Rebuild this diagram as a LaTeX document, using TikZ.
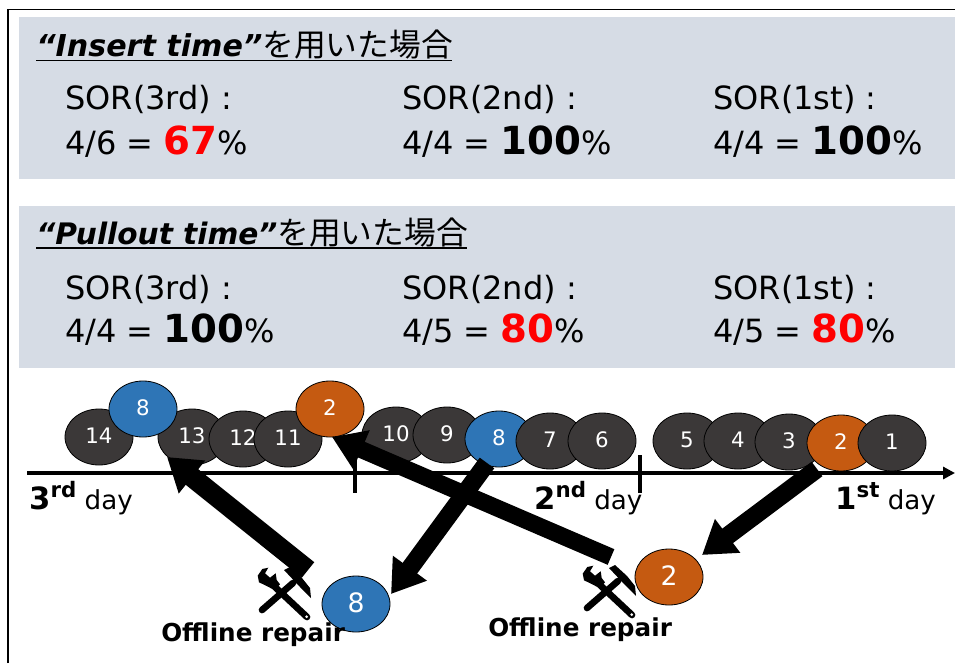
\documentclass[tikz,border=0pt]{standalone}
\usepackage{fontspec}
\setmainfont{DejaVu Sans}
\newfontfamily\jpfont{Noto Sans CJK JP}
\usetikzlibrary{arrows.meta}
\definecolor{panelc}{HTML}{D6DCE5}
\definecolor{darkc}{HTML}{3B3838}
\definecolor{bluec}{HTML}{2E75B6}
\definecolor{orangec}{HTML}{C55A11}
\newcommand{\bigval}[1]{{\fontsize{29}{29}\selectfont\bfseries #1}}
\newcommand{\redval}[1]{\bigval{\textcolor{red}{#1}}}
\newcommand{\dayl}[3]{{\fontsize{23}{23}\selectfont\bfseries #1}\raisebox{0.45em}{\fontsize{16}{16}\selectfont\bfseries #2} day}
\tikzset{
  panel/.style={fill=panelc,draw=none},
  txt/.style={anchor=base west,inner sep=0pt,font=\fontsize{24}{28}\selectfont,text=black},
  ttl/.style={anchor=base west,inner sep=0pt,font=\fontsize{22.6}{26}\selectfont},
  bigarrow/.style={line width=#1*0.75pt,-{Triangle[length=24pt,width=30pt]}},
  daylab/.style={anchor=base west,inner sep=0pt,font=\fontsize{19.6}{22}\selectfont},
  off/.style={anchor=base west,inner sep=0pt,font=\fontsize{18.5}{20}\selectfont\bfseries},
  nlab/.style={inner sep=0pt,text=white}
}
\newcommand{\jobn}[6][16]{%
  \coordinate (#2) at (#4,#5);
  \draw[draw=black,line width=0.6pt,fill=#6] (#2) ellipse [x radius=34,y radius=28];
  \node[nlab,font=\fontsize{#1}{#1}\selectfont,yshift=0.9pt] (#2t) at (#2) {#3};
}
\newcommand{\toolicon}[2]{%
  \begin{scope}[shift={(#1,#2)}]
    \draw[line width=5pt,line cap=round] (262,610) -- (293,583);
    \fill (284,570) -- (290,567) -- (302,578) -- (310,588) -- (311,598) -- (300,587) -- cycle;
    \draw[line width=5pt,line cap=round] (307,617) -- (275,587);
    \fill (268.3,567.7) -- (262.3,569) -- (257.7,575.7) -- (259,582.3) -- (266.7,586) -- (274.3,590) -- (280,584.3) -- (276.7,580) -- (275.7,573.3) -- (270,577.7) -- (265,573.3) -- cycle;
    \fill[white] (306.7,616.7) circle [radius=1.5];
  \end{scope}%
}
\begin{document}
\begin{tikzpicture}[x=0.75pt,y=-0.75pt]
\useasboundingbox (0,0) rectangle (955,663);
\fill[white] (0,0) rectangle (955,663);
\draw[line width=1.2pt] (8,663) -- (8,9.5) -- (955,9.5);
\fill[panel] (19,17) rectangle (955,179);
\fill[panel] (19,206) rectangle (955,368);

% Panel 1
\node[ttl] (t1) at (36,57) {\textbf{\textit{“Insert time”}}{\jpfont\fontsize{23.8}{26}\selectfont を用いた場合}};
\draw[line width=0.9pt] (36,60.5) -- (452,60.5);
\node[txt] (a1) at (65,110) {SOR(3rd) :};
\node[txt] (a2) at (65,154.5) {4/6 = \redval{67}\%};
\node[txt] (b1) at (402,110) {SOR(2nd) :};
\node[txt] (b2) at (402,154.5) {4/4 = \bigval{100}\%};
\node[txt] (c1) at (713,110) {SOR(1st) :};
\node[txt] (c2) at (713,154.5) {4/4 = \bigval{100}\%};

% Panel 2
\node[ttl,font=\fontsize{22.2}{26}\selectfont] (t2) at (36,244) {\textbf{\textit{“Pullout time”}}{\jpfont\fontsize{23.8}{26}\selectfont を用いた場合}};
\draw[line width=0.9pt] (36,248) -- (467,248);
\node[txt] (d1) at (65,299) {SOR(3rd) :};
\node[txt] (d2) at (65,342.5) {4/4 = \bigval{100}\%};
\node[txt] (e1) at (402,299) {SOR(2nd) :};
\node[txt] (e2) at (402,342.5) {4/5 = \redval{80}\%};
\node[txt] (f1) at (713,299) {SOR(1st) :};
\node[txt] (f2) at (713,342.5) {4/5 = \redval{80}\%};

% Timeline
\coordinate (axs) at (27,473);
\coordinate (axe) at (955,473);
\draw[line width=2.6pt,-{Triangle[length=9pt,width=9pt]}] (axs) -- (axe);
\coordinate (t1a) at (355,458); \coordinate (t1b) at (355,493);
\coordinate (t2a) at (640,455); \coordinate (t2b) at (640,493);
\draw[line width=2.8pt] (t1a) -- (t1b);
\draw[line width=2.8pt] (t2a) -- (t2b);

% Jobs
\jobn{j14}{14}{99}{437}{darkc}
\jobn{j13}{13}{192}{437}{darkc}
\jobn{j8a}{8}{143}{409}{bluec}
\jobn{j12}{12}{243}{439}{darkc}
\jobn{j11}{11}{288}{439}{darkc}
\jobn{j2a}{2}{330}{409}{orangec}
\jobn{j10}{10}{396}{435}{darkc}
\jobn{j9}{9}{447}{435}{darkc}
\jobn{j8b}{8}{499}{439}{bluec}
\jobn{j7}{7}{550}{441}{darkc}
\jobn{j6}{6}{602}{441}{darkc}
\jobn{j5}{5}{687}{441}{darkc}
\jobn{j4}{4}{738}{441}{darkc}
\jobn{j3}{3}{789}{442}{darkc}
\jobn{j2b}{2}{841}{443}{orangec}
\jobn{j1}{1}{892}{443}{darkc}
\jobn[20]{j8c}{8}{356}{604}{bluec}
\jobn[20]{j2c}{2}{669}{577}{orangec}

% Day labels
\node[daylab] (d3) at (29,509) {\dayl{3}{rd}{}};
\node[daylab] (d2l) at (534,509) {\dayl{2}{nd}{}};
\node[daylab] (d1l) at (835,509) {\dayl{1}{st}{}};

% Arrows
\coordinate (as) at (308,570); \coordinate (ae) at (167,457);
\coordinate (bs) at (611,557); \coordinate (be) at (332,437);
\coordinate (cs) at (487,463); \coordinate (ce) at (391,594);
\coordinate (ds) at (817,469); \coordinate (de) at (702,555);
\draw[bigarrow=20] (as) -- (ae);
\draw[bigarrow=17] (bs) -- (be);
\draw[bigarrow=18] (cs) -- (ce);
\draw[bigarrow=18] (ds) -- (de);

% Repair
\toolicon{0}{0}
\toolicon{325}{-2}
\node[off] (o1) at (161,641) {Offline repair};
\node[off] (o2) at (488,636) {Offline repair};
\end{tikzpicture}
\end{document}
